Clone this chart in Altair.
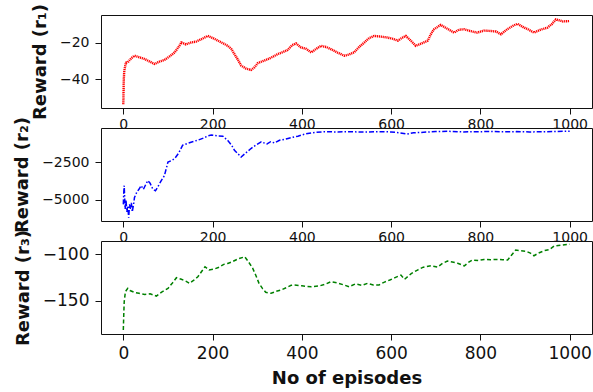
import altair as alt
import pandas as pd

# Reward curves over training episodes (three reward signals)
ep_r1 = [0, 1, 2, 4, 6, 10, 18, 25, 35, 48, 60, 70, 80, 92, 104, 115, 125, 130, 140, 152,
         163, 175, 189, 200, 212, 224, 234, 242, 249, 257, 264, 275, 286, 294, 301, 312, 324,
         335, 346, 357, 368, 378, 387, 398, 410, 421, 432, 443, 455, 465, 480, 495, 506, 517,
         528, 540, 551, 562, 577, 592, 604, 615, 624, 633, 644, 655, 668, 682, 690, 696, 711,
         726, 741, 752, 764, 778, 793, 808, 823, 835, 846, 860, 872, 883, 895, 908, 920, 935,
         950, 960, 969, 985, 1000]
r1 = [-53.7, -40.5, -36, -33, -31, -30.8, -28.5, -27.2, -28, -29, -30.5, -31.7, -30.5, -29.5,
      -27.5, -25.4, -22, -20, -21, -20, -19.5, -18.2, -16.4, -17.5, -19, -20.5, -21.8, -23.5,
      -26.3, -29.5, -32.6, -34.2, -35, -33.5, -31.3, -30.2, -29, -27.8, -26.3, -25.3, -24.1,
      -21.5, -20.5, -22.7, -23.5, -25.4, -23.5, -21.8, -22.5, -23.6, -25.5, -27.2, -26.5,
      -25.4, -22.5, -20, -17.5, -16.4, -16.8, -17.3, -18, -19, -17.5, -16.4, -19, -21.8,
      -20.5, -19, -15, -12.8, -10.4, -12.5, -14.6, -13, -12.8, -13.8, -14.6, -13.5, -13.7,
      -14, -15.5, -12.8, -11, -9.8, -11.5, -13, -14.6, -13, -11.9, -10, -7.4, -8.5, -8.3]

ep_r2 = [0, 1, 2, 3, 4, 6, 8, 10, 12, 14, 16, 18, 20, 23, 25, 30, 35, 40, 45, 50, 55, 60, 66,
         72, 78, 85, 92, 100, 108, 115, 124, 133, 145, 155, 167, 180, 190, 197, 210, 223, 235,
         243, 249, 257, 264, 272, 280, 286, 298, 309, 322, 330, 339, 350, 360, 369, 380, 391,
         400, 413, 430, 450, 480, 510, 540, 570, 600, 620, 636, 650, 680, 700, 730, 760, 790,
         820, 850, 880, 910, 940, 970, 1000]
r2 = [-5300, -4500, -4060, -4800, -5600, -5000, -5800, -5400, -6185, -5300, -5600, -5200,
      -5800, -5300, -4845, -4500, -4300, -4060, -4300, -4000, -3725, -3900, -4285, -4400,
      -4100, -3725, -3400, -2500, -2400, -2270, -1900, -1380, -1250, -1150, -1045, -900,
      -760, -710, -760, -780, -1100, -1400, -1715, -1950, -2165, -1950, -1750, -1600, -1350,
      -1160, -1300, -1150, -1230, -1050, -1000, -935, -850, -780, -700, -600, -530, -490,
      -500, -490, -510, -480, -500, -560, -640, -560, -510, -480, -460, -500, -490, -470,
      -490, -480, -500, -490, -470, -450]

ep_r3 = [0, 1, 2, 4, 5, 8, 10, 15, 25, 35, 48, 60, 74, 85, 100, 110, 119, 130, 140, 148, 158,
         167, 175, 183, 192, 204, 215, 225, 234, 245, 258, 272, 280, 290, 297, 304, 312, 319,
         331, 342, 353, 365, 376, 383, 400, 421, 440, 454, 465, 480, 494, 506, 520, 535, 547,
         560, 573, 585, 597, 610, 622, 630, 645, 659, 672, 689, 704, 715, 726, 737, 749, 764,
         773, 782, 795, 808, 823, 838, 850, 861, 870, 879, 890, 902, 912, 920, 930, 943, 955,
         965, 980, 995, 1000]
r3 = [-181.4, -165, -151, -143, -140, -138, -136.7, -139, -141, -142, -143.2, -142.5, -145,
      -141, -136.8, -131, -125.3, -127, -129, -131.4, -128, -124.3, -119, -113.6, -117, -116,
      -114, -111, -110, -108, -105, -102.9, -108, -115.3, -123, -131.4, -137, -141, -142, -140,
      -138.5, -136, -133.5, -133.2, -134, -135, -134, -132, -129.6, -131, -133, -135, -132,
      -133.5, -131.4, -133, -133, -130, -127.8, -125, -122.5, -127, -121, -117.1, -114, -112.5,
      -114, -110, -107.5, -108.5, -109.8, -112.7, -109, -106.4, -107, -105.7, -106, -105.7,
      -106, -106.4, -101, -95.7, -96.5, -97, -99, -101.8, -99, -96.4, -95, -91.4, -90.5,
      -89.6, -89.5]

x_ticks = [0, 200, 400, 600, 800, 1000]
FONT = "DejaVu Sans"
W, H = 491, 93
X_DOMAIN = [-50, 1050]


def panel(episodes, values, color, dash, width, y_domain, y_ticks, y_title,
          tick_font, x_pad, x_title=None):
    df = pd.DataFrame({"episode": episodes, "reward": values})
    x_axis = dict(values=x_ticks, format="d", labelFontSize=tick_font, labelFlush=False,
                  labelOverlap=False, labelPadding=x_pad)
    if x_title:
        x_axis.update(title=x_title, titleFontSize=18, titleFontWeight="bold",
                      titlePadding=8)
    else:
        x_axis.update(title=None)
    return alt.Chart(df).mark_line(
        color=color, strokeWidth=width, strokeDash=dash, clip=True
    ).encode(
        x=alt.X("episode:Q", scale=alt.Scale(domain=X_DOMAIN, nice=False, zero=False),
                axis=alt.Axis(**x_axis)),
        y=alt.Y("reward:Q", scale=alt.Scale(domain=y_domain, nice=False, zero=False),
                axis=alt.Axis(values=y_ticks, format="d", title=y_title,
                              labelFontSize=tick_font, labelPadding=6, titleFontSize=18,
                              titleFontWeight="bold", titlePadding=10)),
    ).properties(width=W, height=H)


p1 = panel(ep_r1, r1, "#ff0000", [1.2, 0.7], 2.4, [-55.7, -5], [-40, -20],
           "Reward (r₁)", 14, 3)
p2 = panel(ep_r2, r2, "#0000ff", [5, 2, 1.5, 2], 1.5, [-6400, -240], [-5000, -2500],
           "Reward (r₂)", 14, 3)
p3 = panel(ep_r3, r3, "#008000", [4, 2.5], 1.5, [-185.6, -86], [-150, -100],
           "Reward (r₃)", 17, 5, x_title="No of episodes")

chart = alt.vconcat(p1, p2, p3, spacing=20, bounds="flush").properties(
    padding={"left": 13, "top": 2, "right": 0, "bottom": 0}
).configure(
    font=FONT,
).configure_view(
    stroke="#111", strokeWidth=1, fill="white"
).configure_axis(
    domain=False, grid=False, ticks=True, tickSize=6, tickColor="#111",
    labelColor="#111", titleColor="#111", labelFont=FONT, titleFont=FONT
)

chart.save("out.html", embed_options={"renderer": "svg", "actions": False})
